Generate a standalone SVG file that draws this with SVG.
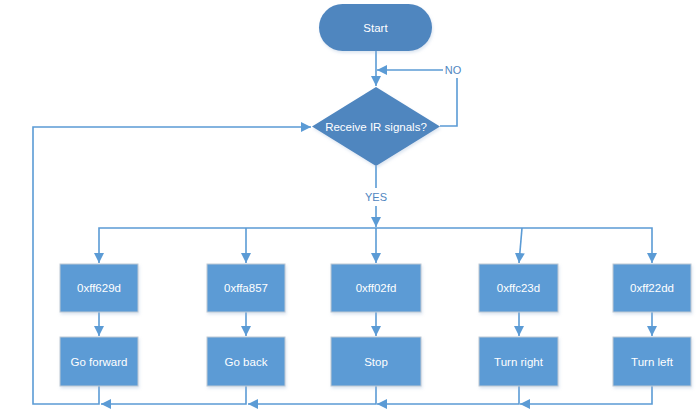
<svg xmlns="http://www.w3.org/2000/svg" width="699" height="420" viewBox="0 0 699 420">
<style>
.ln{fill:none;stroke:#5B9BD5;stroke-width:1.6}
.box{fill:#5B9BD5;stroke:#BFC9D4;stroke-width:1}
.dk{fill:#4F86BF}
.t{font-family:"Liberation Sans",Arial,sans-serif;font-size:11.5px;fill:#FFFFFF;text-anchor:middle}
.lb{font-family:"Liberation Sans",Arial,sans-serif;font-size:11px;fill:#4F86BF;text-anchor:middle}
</style>
<defs>
<marker id="ah" markerUnits="userSpaceOnUse" markerWidth="10" markerHeight="10" refX="10" refY="5" orient="auto">
<path d="M0,0 L10,5 L0,10 z" fill="#5B9BD5"/>
</marker>
<filter id="sh" x="-10%" y="-10%" width="130%" height="140%">
<feDropShadow dx="1" dy="2" stdDeviation="1.5" flood-color="#9DB7D6" flood-opacity="0.35"/>
</filter>
</defs>
<rect width="699" height="420" fill="#FFFFFF"/>
<g id="connectors">
<path class="ln" d="M376,51 V86" marker-end="url(#ah)"/>
<path class="ln" d="M440,126 H457 V78"/>
<path class="ln" d="M443,70 H377" marker-end="url(#ah)"/>
<path class="ln" d="M376,166 V188"/>
<path class="ln" d="M376,206 V227" marker-end="url(#ah)"/>
<path class="ln" d="M376,228 H99 V263" marker-end="url(#ah)"/>
<path class="ln" d="M376,228 H652 V263" marker-end="url(#ah)"/>
<path class="ln" d="M246,228 V263" marker-end="url(#ah)"/>
<path class="ln" d="M376,228 V263" marker-end="url(#ah)"/>
<path class="ln" d="M522,228 L519,263" marker-end="url(#ah)"/>
<path class="ln" d="M99,312 V336" marker-end="url(#ah)"/>
<path class="ln" d="M246,312 V336" marker-end="url(#ah)"/>
<path class="ln" d="M376,312 V336" marker-end="url(#ah)"/>
<path class="ln" d="M519,312 V336" marker-end="url(#ah)"/>
<path class="ln" d="M652,312 V336" marker-end="url(#ah)"/>
<path class="ln" d="M652,386 V404 H520" marker-end="url(#ah)"/>
<path class="ln" d="M519,386 V404 H377" marker-end="url(#ah)"/>
<path class="ln" d="M376,386 V404 H248" marker-end="url(#ah)"/>
<path class="ln" d="M246,386 V404 H101" marker-end="url(#ah)"/>
<path class="ln" d="M99,386 V404 H33 V127 H311" marker-end="url(#ah)"/>
<text class="lb" x="453" y="74">NO</text>
<text class="lb" x="376" y="201">YES</text>
</g>
<g id="start">
<rect class="dk" x="319" y="4" width="113" height="47" rx="23.5" filter="url(#sh)"/>
<text class="t" x="375.5" y="32">Start</text>
</g>
<g id="decision">
<polygon class="dk" points="376,87 440,126.5 376,166 312,126.5" filter="url(#sh)"/>
<text class="t" x="376" y="131">Receive IR signals?</text>
</g>
<g id="code1"><rect class="box" x="60" y="264" width="78" height="48" filter="url(#sh)"/><text class="t" x="99" y="292">0xff629d</text></g>
<g id="code2"><rect class="box" x="207" y="264" width="78" height="48" filter="url(#sh)"/><text class="t" x="246" y="292">0xffa857</text></g>
<g id="code3"><rect class="box" x="331" y="264" width="90" height="48" filter="url(#sh)"/><text class="t" x="376" y="292">0xff02fd</text></g>
<g id="code4"><rect class="box" x="479" y="264" width="79" height="48" filter="url(#sh)"/><text class="t" x="518.5" y="292">0xffc23d</text></g>
<g id="code5"><rect class="box" x="613" y="264" width="78" height="48" filter="url(#sh)"/><text class="t" x="652" y="292">0xff22dd</text></g>
<g id="act1"><rect class="box" x="60" y="337" width="78" height="49" filter="url(#sh)"/><text class="t" x="99" y="365.5">Go forward</text></g>
<g id="act2"><rect class="box" x="207" y="337" width="78" height="49" filter="url(#sh)"/><text class="t" x="246" y="365.5">Go back</text></g>
<g id="act3"><rect class="box" x="331" y="337" width="90" height="49" filter="url(#sh)"/><text class="t" x="376" y="365.5">Stop</text></g>
<g id="act4"><rect class="box" x="479" y="337" width="79" height="49" filter="url(#sh)"/><text class="t" x="518.5" y="365.5">Turn right</text></g>
<g id="act5"><rect class="box" x="613" y="337" width="78" height="49" filter="url(#sh)"/><text class="t" x="652" y="365.5">Turn left</text></g>
</svg>
